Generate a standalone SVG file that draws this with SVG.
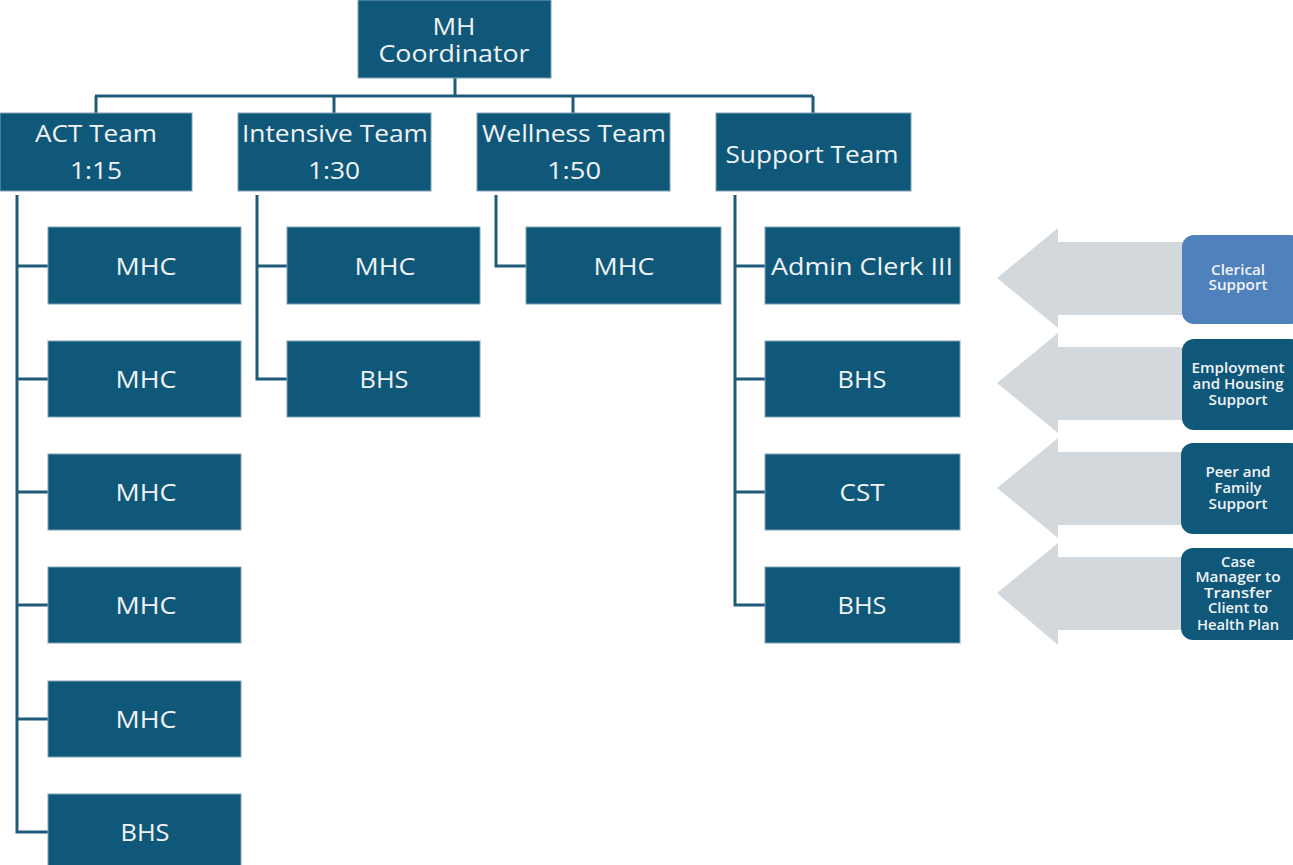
<svg xmlns="http://www.w3.org/2000/svg" width="1293" height="865" viewBox="0 0 1293 865">
  <style>
    .box { fill: #10587a; stroke: #7fa3b8; stroke-width: 1; }
    .lbl { font-family: "Open Sans", "Liberation Sans", sans-serif; font-size: 23px; font-weight: 500; fill: #f0f3f4; text-anchor: middle; dominant-baseline: central; }
    .side { font-family: "Open Sans", "Liberation Sans", sans-serif; font-size: 13.5px; font-weight: 600; fill: #f0f3f4; text-anchor: middle; }
    .conn { stroke: #1f5a78; stroke-width: 3; fill: none; }
    .arrow { fill: #d3d8dc; }
    .sbox-dark { fill: #10587a; }
    .sbox-light { fill: #4f81bd; }
  </style>

  <!-- connectors -->
  <g id="connectors">
    <path class="conn" d="M455 78 V96 M95 96 H813 M96 96 V113 M334 96 V113 M573 96 V113 M813 96 V113"/>
    <path class="conn" d="M17 195 V832 H48 M17 266 H48 M17 379 H48 M17 492 H48 M17 605 H48 M17 719 H48"/>
    <path class="conn" d="M257 195 V379 H287 M257 266 H287"/>
    <path class="conn" d="M496 195 V266 H526"/>
    <path class="conn" d="M735 195 V605 H765 M735 266 H765 M735 379 H765 M735 492 H765"/>
  </g>

  <!-- top -->
  <g id="coordinator">
    <rect class="box" x="358" y="0" width="193" height="78"/>
    <text class="lbl" x="454" y="26" textLength="43" lengthAdjust="spacingAndGlyphs">MH</text>
    <text class="lbl" x="454" y="53" textLength="151" lengthAdjust="spacingAndGlyphs">Coordinator</text>
  </g>

  <!-- teams -->
  <g id="act-team">
    <rect class="box" x="0" y="113" width="192" height="78"/>
    <text class="lbl" x="96" y="133" textLength="122" lengthAdjust="spacingAndGlyphs">ACT Team</text>
    <text class="lbl" x="96" y="170" textLength="52" lengthAdjust="spacingAndGlyphs">1:15</text>
  </g>
  <g id="intensive-team">
    <rect class="box" x="238" y="113" width="193" height="78"/>
    <text class="lbl" x="335" y="133" textLength="186" lengthAdjust="spacingAndGlyphs">Intensive Team</text>
    <text class="lbl" x="334" y="170" textLength="52" lengthAdjust="spacingAndGlyphs">1:30</text>
  </g>
  <g id="wellness-team">
    <rect class="box" x="477" y="113" width="193" height="78"/>
    <text class="lbl" x="574" y="133" textLength="184" lengthAdjust="spacingAndGlyphs">Wellness Team</text>
    <text class="lbl" x="574" y="170" textLength="54" lengthAdjust="spacingAndGlyphs">1:50</text>
  </g>
  <g id="support-team">
    <rect class="box" x="716" y="113" width="195" height="78"/>
    <text class="lbl" x="812" y="154" textLength="173" lengthAdjust="spacingAndGlyphs">Support Team</text>
  </g>

  <!-- ACT staff -->
  <g id="act-mhc-1"><rect class="box" x="48" y="227" width="193" height="77"/><text class="lbl" x="146" y="266" textLength="61" lengthAdjust="spacingAndGlyphs">MHC</text></g>
  <g id="act-mhc-2"><rect class="box" x="48" y="341" width="193" height="76"/><text class="lbl" x="146" y="379" textLength="61" lengthAdjust="spacingAndGlyphs">MHC</text></g>
  <g id="act-mhc-3"><rect class="box" x="48" y="454" width="193" height="76"/><text class="lbl" x="146" y="492" textLength="61" lengthAdjust="spacingAndGlyphs">MHC</text></g>
  <g id="act-mhc-4"><rect class="box" x="48" y="567" width="193" height="76"/><text class="lbl" x="146" y="605" textLength="61" lengthAdjust="spacingAndGlyphs">MHC</text></g>
  <g id="act-mhc-5"><rect class="box" x="48" y="681" width="193" height="76"/><text class="lbl" x="146" y="719" textLength="61" lengthAdjust="spacingAndGlyphs">MHC</text></g>
  <g id="act-bhs"><rect class="box" x="48" y="794" width="193" height="76"/><text class="lbl" x="145" y="832" textLength="49" lengthAdjust="spacingAndGlyphs">BHS</text></g>

  <!-- Intensive staff -->
  <g id="int-mhc"><rect class="box" x="287" y="227" width="193" height="77"/><text class="lbl" x="385" y="266" textLength="61" lengthAdjust="spacingAndGlyphs">MHC</text></g>
  <g id="int-bhs"><rect class="box" x="287" y="341" width="193" height="76"/><text class="lbl" x="384" y="379" textLength="49" lengthAdjust="spacingAndGlyphs">BHS</text></g>

  <!-- Wellness staff -->
  <g id="well-mhc"><rect class="box" x="526" y="227" width="195" height="77"/><text class="lbl" x="624" y="266" textLength="61" lengthAdjust="spacingAndGlyphs">MHC</text></g>

  <!-- Support staff -->
  <g id="sup-admin"><rect class="box" x="765" y="227" width="195" height="77"/><text class="lbl" x="862" y="266" textLength="182" lengthAdjust="spacingAndGlyphs">Admin Clerk III</text></g>
  <g id="sup-bhs-1"><rect class="box" x="765" y="341" width="195" height="76"/><text class="lbl" x="862" y="379" textLength="49" lengthAdjust="spacingAndGlyphs">BHS</text></g>
  <g id="sup-cst"><rect class="box" x="765" y="454" width="195" height="76"/><text class="lbl" x="862" y="492" textLength="45" lengthAdjust="spacingAndGlyphs">CST</text></g>
  <g id="sup-bhs-2"><rect class="box" x="765" y="567" width="195" height="76"/><text class="lbl" x="862" y="605" textLength="49" lengthAdjust="spacingAndGlyphs">BHS</text></g>

  <!-- side arrows -->
  <g id="arrows">
    <path class="arrow" d="M997 278 L1058 228 V242 H1190 V315 H1058 V328 Z"/>
    <path class="arrow" d="M997 383 L1058 333 V347 H1190 V420 H1058 V433 Z"/>
    <path class="arrow" d="M997 488 L1058 438 V452 H1190 V525 H1058 V538 Z"/>
    <path class="arrow" d="M997 593 L1058 543 V557 H1190 V630 H1058 V645 Z"/>
  </g>

  <!-- side boxes -->
  <g id="clerical-support">
    <rect class="sbox-light" x="1182" y="235" width="120" height="89" rx="12"/>
    <text class="side" x="1238" y="275" textLength="54" lengthAdjust="spacingAndGlyphs">Clerical</text>
    <text class="side" x="1238" y="290" textLength="59" lengthAdjust="spacingAndGlyphs">Support</text>
  </g>
  <g id="employment-housing">
    <rect class="sbox-dark" x="1182" y="339" width="120" height="91" rx="12"/>
    <text class="side" x="1238" y="373" textLength="93" lengthAdjust="spacingAndGlyphs">Employment</text>
    <text class="side" x="1238" y="389" textLength="91" lengthAdjust="spacingAndGlyphs">and Housing</text>
    <text class="side" x="1238" y="405" textLength="59" lengthAdjust="spacingAndGlyphs">Support</text>
  </g>
  <g id="peer-family">
    <rect class="sbox-dark" x="1181" y="443" width="121" height="91" rx="12"/>
    <text class="side" x="1238" y="477" textLength="65" lengthAdjust="spacingAndGlyphs">Peer and</text>
    <text class="side" x="1238" y="493" textLength="47" lengthAdjust="spacingAndGlyphs">Family</text>
    <text class="side" x="1238" y="509" textLength="59" lengthAdjust="spacingAndGlyphs">Support</text>
  </g>
  <g id="case-manager">
    <rect class="sbox-dark" x="1181" y="548" width="121" height="92" rx="12"/>
    <text class="side" x="1238" y="567" textLength="34" lengthAdjust="spacingAndGlyphs">Case</text>
    <text class="side" x="1238" y="582" textLength="85" lengthAdjust="spacingAndGlyphs">Manager to</text>
    <text class="side" x="1238" y="598" textLength="68" lengthAdjust="spacingAndGlyphs">Transfer</text>
    <text class="side" x="1238" y="613" textLength="60" lengthAdjust="spacingAndGlyphs">Client to</text>
    <text class="side" x="1238" y="630" textLength="82" lengthAdjust="spacingAndGlyphs">Health Plan</text>
  </g>
</svg>
